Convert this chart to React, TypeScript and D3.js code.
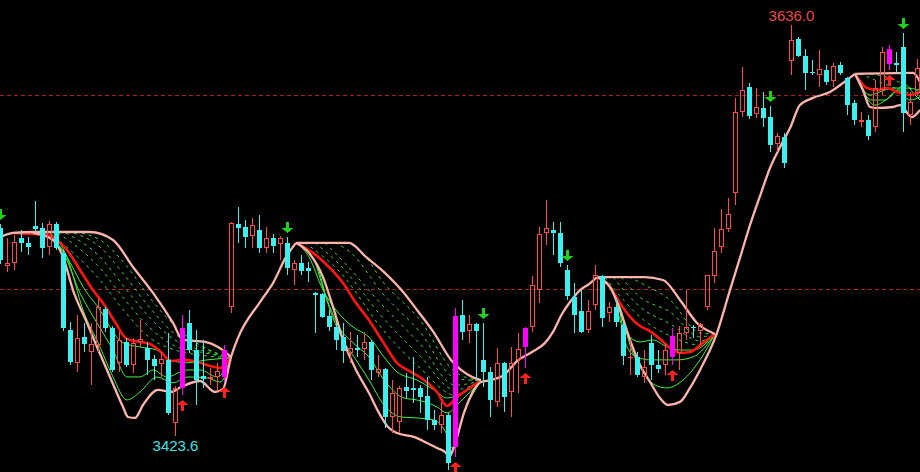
import React from 'react';
import * as d3 from 'd3';

// ---- candle data (index 0..131) ----
const opens = [3531.3,3511.6,3513.2,3526.1,3523.6,3532.3,3531.3,3521.5,3533.3,3518.4,3478.6,3461.6,3475.0,3467.2,3470.8,3489.4,3479.6,3461.6,3472.4,3460.5,3472.4,3469.3,3463.6,3461.0,3463.1,3430.5,3448.6,3482.2,3468.2,3454.8,3453.3,3454.3,3454.3,3490.5,3533.3,3531.8,3527.1,3530.2,3521.0,3526.1,3523.0,3523.6,3509.6,3513.2,3510.6,3497.7,3497.1,3485.8,3480.1,3475.0,3466.7,3469.3,3468.7,3472.4,3456.4,3458.4,3433.6,3431.0,3449.1,3448.6,3448.6,3444.5,3432.0,3429.4,3434.6,3418.1,3486.3,3478.1,3481.7,3463.1,3456.9,3441.4,3461.6,3446.5,3463.1,3469.8,3480.1,3499.2,3528.7,3530.2,3528.7,3509.6,3495.6,3488.4,3478.6,3491.5,3506.5,3487.4,3490.5,3481.2,3464.1,3464.6,3454.3,3471.9,3460.5,3460.5,3464.6,3466.7,3477.1,3480.1,3478.1,3490.5,3506.5,3521.5,3530.8,3549.4,3591.2,3604.1,3590.2,3593.3,3588.6,3574.7,3578.3,3617.6,3628.9,3620.2,3611.9,3610.3,3612.9,3607.2,3615.5,3608.8,3595.9,3586.0,3587.1,3583.5,3602.6,3616.0,3616.5,3624.8,3589.7,3601.0];
const highs = [3533.3,3526.1,3527.6,3530.2,3526.6,3545.2,3533.9,3534.9,3534.4,3519.9,3482.7,3486.3,3482.2,3482.2,3495.1,3490.5,3480.6,3477.6,3474.5,3474.5,3483.7,3472.4,3465.6,3467.2,3477.1,3449.6,3486.3,3488.9,3478.6,3473.4,3459.0,3461.6,3470.8,3534.4,3542.1,3535.4,3536.5,3538.0,3531.8,3528.1,3527.1,3526.6,3514.7,3517.3,3513.7,3498.2,3497.7,3488.9,3482.2,3482.2,3477.6,3476.0,3477.6,3473.4,3465.6,3459.0,3452.7,3449.6,3456.4,3464.6,3450.1,3454.3,3437.2,3441.4,3435.7,3489.9,3494.1,3486.3,3482.2,3482.2,3459.5,3469.3,3462.1,3469.8,3477.1,3480.1,3506.5,3531.8,3545.7,3534.4,3534.4,3512.1,3502.8,3499.2,3494.1,3512.1,3507.0,3493.0,3495.1,3482.7,3473.4,3467.2,3468.2,3476.0,3468.2,3471.9,3479.6,3480.6,3499.2,3481.2,3482.2,3507.0,3531.3,3541.1,3546.8,3598.5,3614.5,3606.2,3603.6,3601.6,3594.3,3580.4,3580.4,3636.0,3630.0,3623.8,3618.1,3623.3,3615.5,3616.5,3617.1,3609.3,3597.4,3591.2,3589.7,3607.8,3624.8,3625.8,3622.2,3632.0,3601.6,3618.6];
const lows = [3512.6,3508.6,3509.6,3518.9,3517.3,3528.7,3515.8,3517.3,3519.9,3478.1,3460.5,3456.9,3467.2,3450.1,3467.2,3477.6,3456.9,3456.9,3459.5,3456.4,3469.8,3455.3,3452.7,3454.3,3434.6,3423.6,3445.0,3466.7,3439.8,3448.6,3450.1,3447.6,3451.7,3487.4,3523.6,3521.0,3521.0,3518.4,3518.4,3518.4,3514.7,3507.0,3501.8,3507.0,3503.4,3477.1,3484.8,3478.1,3468.2,3461.6,3461.6,3464.6,3463.1,3452.7,3454.3,3427.9,3425.3,3425.3,3443.4,3440.9,3435.7,3426.9,3426.9,3425.3,3406.2,3412.9,3473.4,3471.9,3452.7,3449.1,3433.6,3438.8,3436.2,3433.6,3446.0,3459.0,3477.6,3492.5,3522.5,3517.3,3511.1,3494.1,3477.1,3477.1,3477.1,3488.9,3480.1,3482.7,3480.1,3460.5,3455.3,3454.3,3451.2,3452.7,3456.4,3455.3,3460.5,3457.9,3473.4,3474.5,3470.8,3488.9,3502.8,3518.4,3529.2,3543.2,3588.6,3587.6,3588.1,3583.5,3570.5,3570.5,3562.3,3610.3,3619.6,3602.6,3610.3,3604.1,3605.2,3604.1,3610.3,3589.7,3584.5,3583.5,3576.7,3580.9,3600.0,3612.9,3611.4,3580.9,3584.5,3599.5];
const closes = [3514.7,3513.2,3524.1,3523.6,3521.5,3530.8,3521.0,3533.3,3521.0,3479.6,3462.1,3474.5,3471.3,3471.3,3490.5,3479.6,3457.9,3473.4,3460.5,3471.9,3473.9,3463.1,3460.0,3463.6,3435.7,3448.6,3479.6,3468.2,3452.7,3453.3,3454.3,3457.4,3468.2,3533.9,3531.3,3526.6,3532.8,3521.0,3526.1,3522.0,3526.1,3510.6,3513.2,3509.1,3509.1,3496.6,3485.3,3480.1,3473.4,3467.7,3469.3,3468.2,3472.4,3457.9,3458.4,3433.6,3446.0,3448.6,3447.1,3447.6,3443.9,3432.0,3429.4,3434.6,3409.8,3485.8,3477.6,3481.7,3478.1,3456.9,3442.4,3461.6,3443.9,3461.6,3468.7,3479.6,3501.8,3528.1,3531.3,3528.7,3513.2,3496.1,3486.3,3477.6,3488.4,3507.0,3484.8,3490.5,3482.7,3465.1,3464.6,3455.3,3459.5,3460.5,3458.4,3468.2,3475.5,3477.1,3480.1,3479.6,3481.7,3507.0,3519.4,3530.8,3538.5,3591.2,3602.6,3589.2,3593.8,3588.1,3574.2,3578.8,3564.9,3628.4,3620.2,3611.4,3611.4,3613.4,3606.7,3615.0,3611.4,3594.8,3587.1,3587.1,3578.8,3603.6,3622.2,3623.8,3615.5,3590.7,3596.4,3613.9];

const buySignals = [26, 32, 65, 75, 96, 127];
const sellSignals = [0, 41, 69, 81, 110, 129];
const gridPrices = [3600, 3500];
const highLabel = '3636.0';
const highLabelIndex = 113;
const lowLabel = '3423.6';
const lowLabelIndex = 25;

// ---- indicator knots: [candle index, price] ----
type K = [number, number][];
const pinkUpperA: K = [[-0.07,3526.6],[1.79,3528.7],[4.64,3529.2],[12.79,3529.2],[16.07,3525.1],[18.93,3511.1],[21.79,3497.7],[24.64,3482.2],[26.07,3473.4],[29.21,3472.4],[31.07,3469.8],[32.93,3464.6]];
const pinkLowerA: K = [[4.64,3528.7],[7.5,3525.1],[8.93,3516.3],[10.36,3499.2],[12.36,3482.2],[13.79,3469.8],[15.64,3454.3],[17.5,3438.8],[18.21,3433.6],[19.21,3433.1],[20.36,3439.8],[22.5,3447.6],[24.36,3446.5],[25.79,3449.1],[28.5,3452.2],[30.64,3446.5],[31.79,3448.1],[32.93,3464.6],[33.93,3474.5],[37.07,3493.0],[38.93,3502.8],[40.79,3516.3],[42.21,3523.6]];
const pinkUpperB: K = [[42.21,3523.6],[49.79,3523.6],[52.21,3516.3],[54.79,3508.5],[57.64,3497.7],[59.5,3488.9],[61.93,3477.1],[64.36,3463.1],[65.79,3457.9],[67.64,3453.8],[68.64,3452.7]];
const pinkLowerB: K = [[42.21,3523.6],[44.07,3518.4],[46.07,3505.9],[47.5,3490.5],[48.93,3473.4],[50.79,3457.9],[52.64,3446.0],[54.07,3435.7],[55.36,3428.4],[56.64,3425.3],[59.07,3423.3],[60.93,3420.2],[62.36,3417.6],[63.64,3415.0],[64.07,3412.9],[64.79,3418.1],[66.21,3435.7],[67.64,3447.6],[68.64,3451.7],[70.07,3452.7],[71.93,3455.3],[73.79,3462.5],[75.93,3467.2],[77.79,3471.9],[78.93,3477.6],[80.21,3486.8],[81.36,3493.0],[82.79,3499.2],[84.07,3502.3],[85.21,3505.9]];
const pinkUpperC: K = [[85.21,3505.9],[91.93,3505.9],[94.64,3504.4],[97.07,3494.1],[99.5,3482.2],[102.07,3476.5]];
const pinkLowerC: K = [[85.21,3505.9],[87.07,3500.8],[88.5,3488.9],[89.93,3473.4],[91.36,3460.5],[92.79,3451.7],[94.21,3443.4],[95.36,3439.8],[97.07,3441.4],[98.5,3448.6],[99.93,3457.9],[102.36,3477.1],[104.21,3499.2],[105.64,3515.8],[107.07,3532.8],[108.5,3547.8],[109.93,3562.3],[111.36,3573.1],[112.79,3582.9],[114.21,3594.8],[116.07,3598.5],[118.5,3601.6],[120.36,3606.2],[122.07,3610.9]];
const pinkUpperD: K = [[122.07,3610.9],[130.36,3611.4],[131.36,3606.7]];
const pinkLowerD: K = [[122.07,3610.9],[123.21,3602.6],[124.21,3593.8],[125.21,3593.3],[127.5,3593.8],[128.5,3594.8],[130.21,3588.6],[131.36,3592.3]];

const redA: K = [[1.79,3528.7],[6.64,3527.6],[8.07,3525.1],[9.5,3519.9],[11.36,3509.6],[13.21,3499.2],[14.64,3492.5],[16.36,3482.7],[18.07,3473.9],[19.93,3472.4],[21.36,3471.3],[23.21,3466.2],[24.21,3462.5],[26.07,3463.1],[28.07,3462.1],[29.93,3460.0],[31.36,3458.9],[32.93,3464.6]];
const redB: K = [[42.21,3523.6],[44.64,3518.4],[46.93,3511.1],[48.93,3502.8],[50.79,3492.5],[52.64,3483.7],[54.64,3472.4],[56.64,3461.6],[58.64,3456.9],[60.5,3452.7],[62.36,3446.5],[63.79,3439.3],[65.21,3443.9],[67.21,3449.1],[68.64,3452.2]];
const redC: K = [[85.21,3505.9],[87.07,3500.8],[88.5,3492.5],[89.93,3485.3],[91.36,3480.6],[92.79,3478.0],[94.21,3473.9],[95.64,3469.3],[97.07,3466.7],[98.5,3467.2],[100.36,3471.9],[102.07,3476.5]];
const redD: K = [[122.07,3610.9],[123.79,3603.6],[125.21,3602.6],[126.64,3603.6],[128.07,3601.6],[129.93,3600.0],[131.36,3601.6]];

const greenA1: K = [[5.64,3528.7],[8.5,3521.5],[12.36,3497.7],[14.21,3488.9],[15.64,3480.1],[17.5,3471.9],[19.93,3469.8],[22.36,3468.2],[24.21,3463.1],[26.64,3461.6],[29.5,3463.1],[32.93,3464.1]];
const greenA2: K = [[6.36,3528.7],[8.93,3518.9],[11.36,3497.7],[13.79,3482.2],[16.07,3468.2],[18.07,3454.3],[19.93,3454.3],[21.79,3457.9],[23.79,3454.3],[26.64,3457.9],[28.5,3457.9],[30.93,3454.3],[32.93,3463.1]];
const greenA3: K = [[7.07,3528.7],[9.5,3516.3],[11.79,3488.9],[14.21,3469.8],[16.07,3454.3],[18.07,3442.4],[19.93,3446.5],[22.36,3454.3],[24.64,3451.2],[26.64,3454.3],[29.5,3453.8],[31.36,3451.7],[32.93,3463.1]];
const greenB1: K = [[42.21,3523.6],[44.07,3516.3],[46.07,3499.2],[47.93,3488.9],[50.36,3480.1],[52.64,3474.9],[54.79,3464.6],[56.64,3456.9],[59.5,3452.7],[61.93,3447.6],[63.79,3443.4],[65.93,3446.0],[68.64,3452.2]];
const greenB2: K = [[42.21,3523.6],[44.64,3515.8],[46.5,3495.6],[48.36,3480.1],[50.36,3471.9],[52.64,3464.6],[54.79,3452.7],[57.64,3443.4],[59.5,3442.4],[62.36,3438.8],[63.79,3435.7],[65.93,3442.4],[68.64,3452.2]];
const greenB3: K = [[42.21,3523.6],[45.07,3513.2],[46.93,3490.5],[48.93,3473.4],[50.79,3463.1],[52.64,3452.7],[54.79,3439.8],[57.21,3433.6],[59.5,3433.1],[61.93,3432.0],[63.79,3424.3],[64.5,3417.6],[66.36,3437.2],[68.64,3452.2]];
const greenC1: K = [[85.21,3505.9],[87.5,3499.2],[88.5,3483.7],[89.93,3474.9],[91.36,3472.4],[93.21,3473.4],[95.21,3469.8],[97.07,3468.2],[98.93,3468.2],[102.07,3476.5]];
const greenC2: K = [[85.21,3505.9],[88.07,3494.1],[89.5,3469.8],[90.93,3464.6],[92.79,3463.1],[94.64,3463.1],[96.64,3463.1],[98.93,3464.6],[102.07,3476.5]];
const greenC3: K = [[85.21,3505.9],[88.5,3490.5],[89.93,3470.8],[91.79,3456.9],[93.5,3450.1],[95.21,3448.6],[97.5,3452.7],[99.93,3463.1],[102.07,3476.5]];
const greenD1: K = [[122.07,3610.9],[124.21,3600.0],[125.64,3601.6],[127.5,3603.6],[129.21,3603.6],[131.36,3602.6]];
const greenD2: K = [[122.07,3610.9],[124.5,3597.4],[126.36,3597.4],[128.07,3602.6],[129.93,3597.4],[131.36,3599.0]];
const greenD3: K = [[122.07,3610.9],[124.93,3594.8],[127.07,3599.0],[129.21,3605.2],[130.64,3600.0],[131.36,3597.4]];

const dashA1: K = [[7.07,3528.7],[14.21,3504.4],[17.79,3487.9],[21.36,3474.4],[24.93,3468.2],[28.5,3465.6],[32.93,3464.1]];
const dashA2: K = [[8.21,3528.7],[14.21,3510.6],[17.79,3494.1],[21.36,3479.6],[24.93,3470.3],[28.5,3467.2],[32.93,3464.1]];
const dashA3: K = [[9.36,3528.7],[14.21,3516.3],[17.79,3500.3],[21.36,3484.8],[24.93,3473.4],[28.5,3468.2],[32.93,3464.1]];
const dashA4: K = [[10.5,3528.7],[14.21,3521.5],[17.79,3506.5],[21.36,3489.9],[24.93,3476.5],[28.5,3469.8],[32.93,3464.1]];
const dashA5: K = [[11.64,3528.7],[14.21,3525.1],[17.79,3512.7],[21.36,3495.1],[24.93,3480.6],[28.5,3470.8],[32.93,3464.1]];
const dashB1: K = [[43.5,3523.6],[48.5,3508.5],[54.64,3478.6],[59.93,3458.9],[64.93,3445.0],[68.64,3452.2]];
const dashB2: K = [[44.93,3523.6],[48.5,3512.2],[54.64,3484.8],[59.93,3465.1],[64.93,3447.6],[68.64,3452.2]];
const dashB3: K = [[46.36,3523.6],[48.5,3515.8],[54.64,3491.0],[59.93,3471.3],[64.93,3450.1],[68.64,3452.2]];
const dashB4: K = [[47.79,3523.6],[49.93,3518.9],[54.64,3497.2],[59.93,3477.5],[64.93,3453.8],[68.64,3452.2]];
const dashB5: K = [[49.21,3523.6],[51.36,3519.9],[54.64,3503.4],[59.93,3483.7],[64.93,3456.9],[68.64,3452.2]];
const dashC1: K = [[86.36,3505.9],[91.36,3485.3],[95.64,3475.5],[99.93,3470.8],[102.07,3476.5]];
const dashC2: K = [[87.5,3505.9],[91.36,3490.5],[95.64,3481.7],[99.93,3472.9],[102.07,3476.5]];
const dashC3: K = [[88.64,3505.9],[91.36,3495.6],[95.64,3487.9],[99.93,3475.0],[102.07,3476.5]];
const dashC4: K = [[89.79,3505.9],[92.07,3501.8],[95.64,3494.1],[99.93,3477.0],[102.07,3476.5]];
const dashD1: K = [[122.79,3610.9],[125.64,3606.7],[128.5,3602.6],[131.36,3599.5]];
const dashD2: K = [[124.21,3610.9],[127.07,3608.8],[129.93,3603.6],[131.36,3601.6]];

const pinkLines = [pinkUpperA, pinkLowerA, pinkUpperB, pinkLowerB, pinkUpperC, pinkLowerC, pinkUpperD, pinkLowerD];
const redLines = [redA, redB, redC, redD];
const greenLines = [greenA1, greenA2, greenA3, greenB1, greenB2, greenB3, greenC1, greenC2, greenC3, greenD1, greenD2, greenD3];
const dashLines = [dashA1, dashA2, dashA3, dashA4, dashA5, dashB1, dashB2, dashB3, dashB4, dashB5, dashC1, dashC2, dashC3, dashC4, dashD1, dashD2];

const W = 920;
const H = 472;
const UP = '#ff4848';
const DOWN = '#3cf0f0';
const SIGNAL = '#ff00ff';

export default function App() {
  const x = d3.scaleLinear().domain([0, opens.length - 1]).range([0.5, 0.5 + 7 * (opens.length - 1)]);
  const y = d3.scaleLinear().domain([3500, 3600]).range([288.5, 95]);
  const line = d3.line<[number, number]>().x(d => x(d[0])).y(d => y(d[1])).curve(d3.curveMonotoneX);
  const buySet = new Set(buySignals);

  const candles = opens.map((o, i) => {
    const c = closes[i], h = highs[i], l = lows[i];
    const cx = x(i);
    const yo = Math.round(y(o)), yc = Math.round(y(c)), yh = Math.round(y(h)), yl = Math.round(y(l));
    if (buySet.has(i)) {
      return (
        <g key={i}>
          <line x1={cx} x2={cx} y1={yh} y2={yl} stroke={SIGNAL} strokeWidth={1} />
          <rect x={cx - 2.5} y={yc} width={5} height={Math.max(1, yo - yc)} fill={SIGNAL} />
        </g>
      );
    }
    if (c >= o) {
      const top = yc, bot = Math.max(yo, yc + 1);
      return (
        <g key={i}>
          <line x1={cx} x2={cx} y1={yh} y2={top} stroke={UP} strokeWidth={1} />
          <line x1={cx} x2={cx} y1={bot} y2={yl} stroke={UP} strokeWidth={1} />
          <rect x={cx - 2} y={top + 0.5} width={4} height={Math.max(0.1, bot - top - 1)} fill="none" stroke={UP} strokeWidth={1} />
        </g>
      );
    }
    return (
      <g key={i}>
        <line x1={cx} x2={cx} y1={yh} y2={yl} stroke={DOWN} strokeWidth={1} />
        <rect x={cx - 2.5} y={yo} width={5} height={Math.max(1, yc - yo)} fill={DOWN} />
      </g>
    );
  });

  const upArrow = (cx: number, top: number) =>
    `M${cx},${top} L${cx + 6},${top + 5} L${cx + 1.5},${top + 5} L${cx + 1.5},${top + 11} L${cx - 1.5},${top + 11} L${cx - 1.5},${top + 5} L${cx - 6},${top + 5} Z`;
  const downArrow = (cx: number, bot: number) =>
    `M${cx},${bot} L${cx + 6},${bot - 5} L${cx + 1.5},${bot - 5} L${cx + 1.5},${bot - 11} L${cx - 1.5},${bot - 11} L${cx - 1.5},${bot - 5} L${cx - 6},${bot - 5} Z`;

  return (
    <svg width={W} height={H} style={{ position: 'absolute', left: 0, top: 0, display: 'block', background: '#000' }}>
      <rect x={0} y={0} width={W} height={H} fill="#000" />
      {gridPrices.map(p => (
        <line key={p} x1={0} x2={W} y1={Math.round(y(p)) + 0.5} y2={Math.round(y(p)) + 0.5} stroke="#a82222" strokeWidth={1} strokeDasharray="4,3" />
      ))}
      {dashLines.map((k, i) => (
        <path key={'d' + i} d={line(k) || ''} fill="none" stroke="#3cd23c" strokeWidth={1} strokeDasharray="3,4" />
      ))}
      {greenLines.map((k, i) => (
        <path key={'g' + i} d={line(k) || ''} fill="none" stroke="#40f040" strokeWidth={1} />
      ))}
      {redLines.map((k, i) => (
        <path key={'r' + i} d={line(k) || ''} fill="none" stroke="#ff1414" strokeWidth={2.6} />
      ))}
      {pinkLines.map((k, i) => (
        <path key={'p' + i} d={line(k) || ''} fill="none" stroke="#fbb4ac" strokeWidth={2.3} />
      ))}
      {candles}
      {buySignals.map(i => (
        <path key={'b' + i} d={upArrow(x(i), Math.round(y(lows[i])) + 5)} fill="#ff2020" />
      ))}
      {sellSignals.map(i => (
        <path key={'s' + i} d={downArrow(x(i), Math.round(y(highs[i])) - 4)} fill="#20d020" />
      ))}
      <text x={x(highLabelIndex)} y={y(highs[highLabelIndex]) - 4} textAnchor="middle" fill="#e84a4a" fontSize={15} fontFamily="Liberation Sans, Arial, sans-serif">{highLabel}</text>
      <text x={x(lowLabelIndex)} y={y(lows[lowLabelIndex]) + 15} textAnchor="middle" fill="#40e0e8" fontSize={15} fontFamily="Liberation Sans, Arial, sans-serif">{lowLabel}</text>
    </svg>
  );
}
